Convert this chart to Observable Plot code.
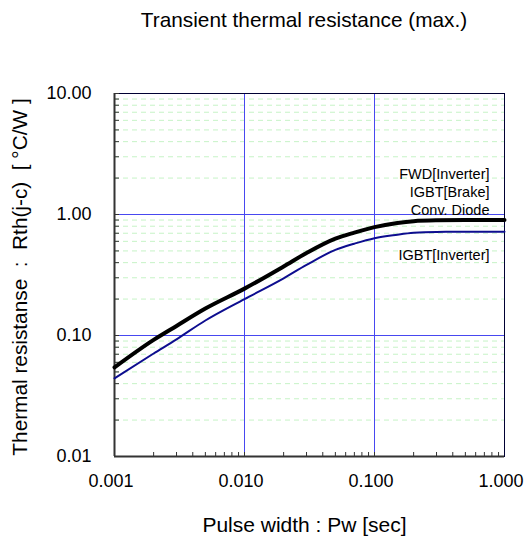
<!DOCTYPE html>
<html>
<head>
<meta charset="utf-8">
<script src="https://cdn.jsdelivr.net/npm/d3@7"></script>
<script src="https://cdn.jsdelivr.net/npm/@observablehq/plot@0.6"></script>
<style>
  body { margin: 0; background: #fff; font-family: "Liberation Sans", Arial, sans-serif; }
  #title { height: 44px; width: 526px; box-sizing: border-box; padding: 8px 0 0 82px; text-align: center;
           font-size: 20.8px; color: #000; line-height: 24px; }
  #chart svg { white-space: pre; }
</style>
</head>
<body>
<div id="title">Transient thermal resistance (max.)</div>
<div id="chart"></div>
<script>
// Pulse width [sec]
const pulseWidth = [0.001, 0.002, 0.003, 0.005, 0.01, 0.02, 0.03, 0.05, 0.07, 0.1, 0.15, 0.2, 0.3, 0.5, 1.0];
// Rth(j-c) max, FWD[Inverter] / IGBT[Brake] / Conv. Diode (common curve)
const rthDiode = [0.0545, 0.092, 0.120, 0.167, 0.244, 0.372, 0.480, 0.631, 0.708, 0.786, 0.85, 0.88, 0.895, 0.90, 0.90];
// Rth(j-c) max, IGBT[Inverter]
const rthIgbt = [0.0443, 0.071, 0.093, 0.133, 0.200, 0.297, 0.383, 0.510, 0.574, 0.637, 0.68, 0.705, 0.718, 0.72, 0.72];

const upperLabels = ["Conv. Diode", "IGBT[Brake]", "FWD[Inverter]"];
const lowerLabels = ["IGBT[Inverter]"];

const xTicks = [0.001, 0.01, 0.1, 1];
const xTickLabels = ["0.001", "0.010", "0.100", "1.000"];
const yTicks = [0.01, 0.1, 1, 10];
const yTickLabels = ["0.01", "0.10", "1.00", "10.00"];
const xMajorGrid = [0.01, 0.1];
const yMajorGrid = [0.1, 1];

const xLabel = "Pulse width : Pw [sec]";
const yLabel = "Thermal resistanse  :  Rth(j-c)  [ °C/W ]";

// 1..9 × each decade, for minor ticks and dashed grid
const decadeSteps = (lo, hi) => d3.range(lo, hi).flatMap(e => d3.range(1, 10).map(m => +(m * 10 ** e).toPrecision(3)));
const xMinor = decadeSteps(-3, 0);
const yMinor = decadeSteps(-2, 1).filter(v => !yTicks.includes(v));

const diode = pulseWidth.map((x, i) => ({x, y: rthDiode[i]}));
const igbt = pulseWidth.map((x, i) => ({x, y: rthIgbt[i]}));
const last = pulseWidth.length - 1;

const font = "Liberation Sans, Arial, sans-serif";

const chart = Plot.plot({
  width: 526,
  height: 495,
  marginTop: 49,
  marginBottom: 83,
  marginLeft: 114,
  marginRight: 22,
  style: {fontFamily: font, background: "#fff", color: "#000"},
  x: {type: "log", domain: [0.001, 1]},
  y: {type: "log", domain: [0.01, 10]},
  marks: [
    // dashed minor grid
    Plot.gridY(yMinor, {stroke: "#c6f3c6", strokeOpacity: 1, strokeWidth: 1, strokeDasharray: "5,4"}),
    // major grid
    Plot.gridX(xMajorGrid, {stroke: "#4848f0", strokeOpacity: 1, strokeWidth: 1}),
    Plot.gridY(yMajorGrid, {stroke: "#4848f0", strokeOpacity: 1, strokeWidth: 1}),
    // frame: thin dark top/right, heavier left/bottom
    Plot.frame({stroke: "#000033", strokeWidth: 1}),
    Plot.ruleX([0.001], {stroke: "#333", strokeWidth: 2}),
    Plot.ruleY([0.01], {stroke: "#333", strokeWidth: 2}),
    // inward minor ticks
    Plot.axisX(xMinor, {tickSize: -4, text: null, stroke: "#333", label: null}),
    Plot.axisY(yMinor.concat(yTicks), {tickSize: -5, text: null, stroke: "#333", label: null}),
    // tick labels
    Plot.axisX(xTicks, {tickSize: 0, tickPadding: 18, fontSize: 18, dx: -3.5, label: null,
      tickFormat: d => xTickLabels[xTicks.indexOf(d)]}),
    Plot.axisY(yTicks, {tickSize: 0, tickPadding: 23, fontSize: 18, label: null,
      tickFormat: d => yTickLabels[yTicks.indexOf(d)]}),
    // curves
    Plot.line(igbt, {x: "x", y: "y", stroke: "#0d0d8f", strokeWidth: 2, curve: "monotone-x"}),
    Plot.line(diode, {x: "x", y: "y", stroke: "#000", strokeWidth: 4, curve: "monotone-x"}),
    // curve labels, stacked above / below the plateau of each curve
    ...upperLabels.map((t, i) => Plot.text([t], {x: () => pulseWidth[last], y: () => rthDiode[last],
      text: d => d, textAnchor: "end", lineAnchor: "bottom", dx: -15, dy: -5 - 18 * i, fontSize: 14.5, fill: "#000"})),
    ...lowerLabels.map(t => Plot.text([t], {x: () => pulseWidth[last], y: () => rthIgbt[last],
      text: d => d, textAnchor: "end", lineAnchor: "bottom", dx: -15, dy: 28, fontSize: 14.5, fill: "#000"})),
    // axis titles
    Plot.text([xLabel], {frameAnchor: "bottom", dx: -5, dy: 69, text: d => d, fontSize: 21,
      textAnchor: "middle", lineAnchor: "middle"}),
    Plot.text([yLabel], {frameAnchor: "left", dx: -94, dy: 2, rotate: -90, text: d => d, fontSize: 20.8,
      textAnchor: "middle", lineAnchor: "middle"})
  ]
});
document.getElementById("chart").append(chart);
</script>
</body>
</html>
